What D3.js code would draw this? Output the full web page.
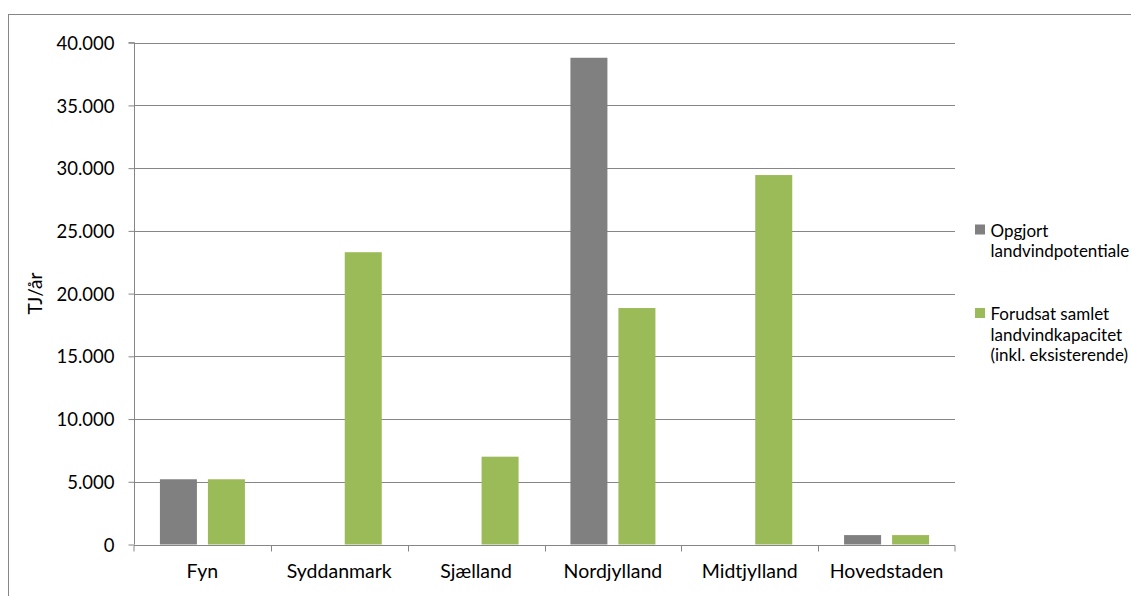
<!DOCTYPE html>
<html>
<head>
<meta charset="utf-8">
<script src="https://cdn.jsdelivr.net/npm/d3@7"></script>
<style>
  body { margin: 0; background: #fff; }
  text { font-family: Lato, "Open Sans", sans-serif; fill: #000; }
</style>
</head>
<body>
<div id="canvas"></div>
<script>
const categories = ["Fyn", "Syddanmark", "Sjælland", "Nordjylland", "Midtjylland", "Hovedstaden"];
const seriesNames = ["Opgjort landvindpotentiale", "Forudsat samlet landvindkapacitet (inkl. eksisterende)"];
const potentiale = [5200, null, null, 38800, null, 750];
const kapacitet = [5200, 23300, 7000, 18850, 29450, 750];
const yTicks = [0, 5000, 10000, 15000, 20000, 25000, 30000, 35000, 40000];
const colors = ["#808080", "#9BBB59"];
const legendLines = [["Opgjort", "landvindpotentiale"], ["Forudsat samlet", "landvindkapacitet", "(inkl. eksisterende)"]];

const W = 1131, H = 596;
const plot = { left: 134, right: 955, top: 42.7, bottom: 544.5 };

const svg = d3.select("#canvas").append("svg")
    .attr("width", W)
    .attr("height", H);

// outer chart border (runs off the right and bottom edge)
svg.append("rect")
    .attr("x", 8.5).attr("y", 14.5)
    .attr("width", 1200).attr("height", 700)
    .attr("fill", "none")
    .attr("stroke", "#868686")
    .attr("stroke-width", 1);

const x = d3.scaleBand()
    .domain(categories)
    .range([plot.left, plot.right])
    .padding(0);

const bw = x.bandwidth();
const x1 = d3.scaleBand()
    .domain([0, 1])
    .range([(bw - 85) / 2, (bw + 85) / 2])
    .paddingInner(0.229)
    .paddingOuter(0);

const y = d3.scaleLinear()
    .domain([0, 40000])
    .range([plot.bottom, plot.top]);

const fmt = d3.formatLocale({ decimal: ",", thousands: ".", grouping: [3], currency: ["", ""] }).format(",");

// gridlines
svg.append("g")
    .selectAll("line")
    .data(yTicks.filter(d => d > 0))
    .enter()
    .append("line")
    .attr("x1", plot.left).attr("x2", plot.right)
    .attr("y1", d => Math.round(y(d)) + 0.5)
    .attr("y2", d => Math.round(y(d)) + 0.5)
    .attr("stroke", "#868686")
    .attr("stroke-width", 1);

// bars
const rows = [];
categories.forEach((c, i) => {
    [potentiale[i], kapacitet[i]].forEach((v, s) => {
        if (v != null) rows.push({ cat: c, s: s, v: v });
    });
});

svg.append("g")
    .selectAll("rect")
    .data(rows)
    .enter()
    .append("rect")
    .attr("x", d => x(d.cat) + x1(d.s))
    .attr("y", d => y(d.v))
    .attr("width", x1.bandwidth())
    .attr("height", d => y(0) - y(d.v))
    .attr("fill", d => colors[d.s]);

// y axis
const yAxis = svg.append("g")
    .attr("transform", `translate(${plot.left + 0.5},0)`)
    .call(d3.axisLeft(y).tickValues(yTicks).tickFormat(fmt).tickSize(6).tickPadding(14));
yAxis.select(".domain").attr("stroke", "#868686").attr("d", `M-6,${plot.top}H0V${plot.bottom}`);
yAxis.selectAll(".tick line").attr("stroke", "#868686");
yAxis.selectAll(".tick text")
    .style("font-size", "18.5px")
    .attr("dy", "0.36em");

// x axis
const xAxis = svg.append("g")
    .attr("transform", `translate(0,${Math.round(plot.bottom) + 0.5})`)
    .call(d3.axisBottom(x).tickSize(0).tickPadding(19));
xAxis.select(".domain").attr("stroke", "#868686").attr("d", `M${plot.left},6V0H${plot.right}V6`);
xAxis.selectAll(".tick text").style("font-size", "19.5px");
xAxis.append("g")
    .selectAll("line")
    .data(categories.slice(1))
    .enter()
    .append("line")
    .attr("x1", d => Math.round(x(d)) + 0.5)
    .attr("x2", d => Math.round(x(d)) + 0.5)
    .attr("y1", 0).attr("y2", 6)
    .attr("stroke", "#868686");

// y axis title
svg.append("text")
    .attr("transform", `translate(42,${(plot.top + plot.bottom) / 2}) rotate(-90)`)
    .attr("text-anchor", "middle")
    .style("font-size", "19px")
    .text("TJ/år");

// legend
const legend = svg.append("g").attr("transform", "translate(975,224.5)");
const legendY = [0, 83.5];
legendLines.forEach((lines, i) => {
    const g = legend.append("g").attr("transform", `translate(0,${legendY[i]})`);
    g.append("rect")
        .attr("width", 10).attr("height", 10)
        .attr("fill", colors[i]);
    g.selectAll("text")
        .data(lines)
        .enter()
        .append("text")
        .attr("x", 15.5)
        .attr("y", (d, j) => 12 + j * 20.5)
        .style("font-size", "17px")
        .text(d => d);
});
</script>
</body>
</html>
